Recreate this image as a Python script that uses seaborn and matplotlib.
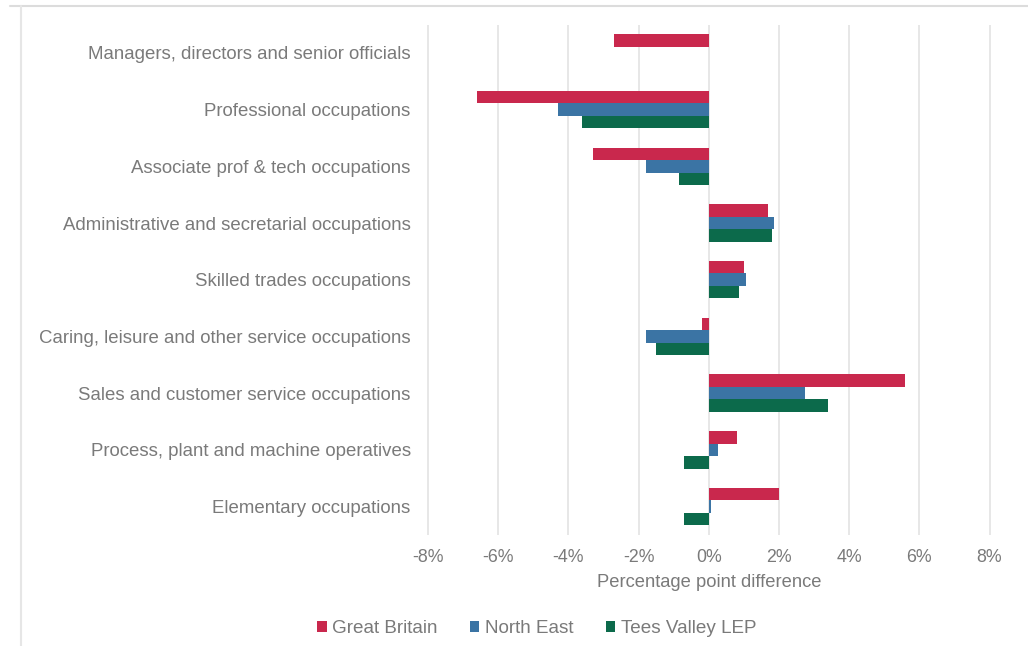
import pandas as pd
import numpy as np
import matplotlib.pyplot as plt
import seaborn as sns

# occupation groups, top to bottom
occupations = [
    "Managers, directors and senior officials",
    "Professional occupations",
    "Associate prof & tech occupations",
    "Administrative and secretarial occupations",
    "Skilled trades occupations",
    "Caring, leisure and other service occupations",
    "Sales and customer service occupations",
    "Process, plant and machine operatives",
    "Elementary occupations",
]
areas = ["Great Britain", "North East", "Tees Valley LEP"]

# percentage point difference
great_britain = [-2.7, -6.6, -3.3, 1.7, 1.0, -0.2, 5.6, 0.8, 2.0]
north_east = [0.0, -4.3, -1.8, 1.85, 1.05, -1.8, 2.75, 0.25, 0.05]
tees_valley = [0.0, -3.6, -0.85, 1.8, 0.85, -1.5, 3.4, -0.7, -0.7]

colours = ["#c9284d", "#3b74a4", "#0c6a4b"]
text_col = "#7a7a7a"

df = pd.DataFrame({
    "Occupation": occupations * 3,
    "Area": [a for a in areas for _ in occupations],
    "Diff": great_britain + north_east + tees_valley,
})

sns.set_style("white")
plt.rcParams["font.family"] = ["Liberation Sans", "DejaVu Sans"]

fig = plt.figure(figsize=(10.28, 6.46), dpi=100)
ax = fig.add_axes([0.413, 0.172, 0.553, 0.79])

sns.barplot(data=df, y="Occupation", x="Diff", hue="Area", order=occupations,
            hue_order=areas, palette=colours, orient="h", width=0.66,
            saturation=1, linewidth=0, ax=ax, legend=True)

ax.set_xlim(-8.1, 8.1)
ax.set_xticks(np.arange(-8, 9, 2))
ax.set_xticklabels([f"{t}%" for t in range(-8, 9, 2)])
ax.grid(axis="x", color="#e3e3e3", linewidth=1.2)
ax.set_axisbelow(True)
for s in ax.spines.values():
    s.set_visible(False)

ax.set_ylabel("")
ax.set_xlabel("Percentage point difference", color=text_col, fontsize=13.2, labelpad=6)
ax.tick_params(axis="both", colors=text_col, length=0)
ax.tick_params(axis="y", pad=10, labelsize=13.4)
ax.tick_params(axis="x", pad=10, labelsize=12.8)

ax.get_legend().remove()
handles, labels = ax.get_legend_handles_labels()
fig.legend(handles, labels, loc="center", bbox_to_anchor=(0.522, 0.027), ncol=3,
           frameon=False, fontsize=13.6, handlelength=0.5, handleheight=0.5,
           handletextpad=0.3, columnspacing=1.7, labelcolor=text_col)

# light frame around the chart area
fig.add_artist(plt.Line2D([0.01, 1.0], [0.99, 0.99], color="#dcdcdc", linewidth=1.5))
fig.add_artist(plt.Line2D([0.02, 0.02], [0.0, 0.99], color="#e6e6e6", linewidth=1.5))

fig.savefig("out.png", dpi=100, facecolor="white")
